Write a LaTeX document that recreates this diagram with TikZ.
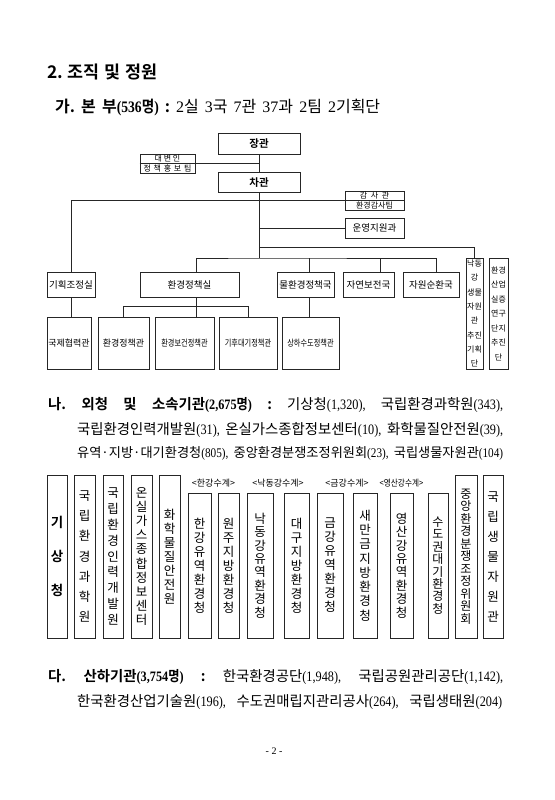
\documentclass[tikz,border=0pt]{standalone}
\usepackage{fontspec}
\setmainfont{Noto Sans CJK KR}[BoldFont={Noto Sans CJK KR Bold}]
\newfontfamily\latinfont{Liberation Serif}
\usepackage{tikz}
\usetikzlibrary{positioning}
\frenchspacing
\newcommand{\pn}[1]{\scalebox{0.85}[1]{\latinfont #1}}
\newcommand{\headcount}[1]{\scalebox{0.85}[1]{\bfseries{\latinfont(#1}명{\latinfont)}}}
\tikzset{
  org/.style={draw=black!85, line width=0.6pt, inner sep=0pt, minimum height=25pt, font=\fontsize{9.5}{10}\selectfont},
  subbox/.style={org, minimum height=52pt, font=\fontsize{9}{10}\selectfont},
  twobox/.style={org, minimum width=59pt, minimum height=19pt, align=center, font=\fontsize{8}{9.5}\selectfont},
  colbox/.style={draw=black!85, line width=0.6pt, inner sep=0pt, align=center, font=\fontsize{12.5}{14}\selectfont},
  tall/.style={minimum height=163pt},
  short/.style={minimum height=145pt},
  grp/.style={inner sep=0pt, font=\fontsize{9}{10}\selectfont},
  link/.style={draw=black!85, line width=0.6pt},
  textline/.style={anchor=west, inner sep=0pt, font=\fontsize{14.4}{16}\selectfont}
}
\begin{document}
\begin{tikzpicture}[x=1pt, y=-1pt]
\useasboundingbox (0,0) rectangle (554,800);
% headings
\node[anchor=west, inner sep=0pt, font=\bfseries\fontsize{17.4}{18}\selectfont] (title) at (47,72) {\makebox[110pt][s]{2. 조직 및 정원}};
\node[anchor=west, inner sep=0pt, font=\fontsize{16}{18}\selectfont] (hq) at (55,107)
  {\makebox[325pt][s]{\textbf{가. 본 부}\headcount{536} \textbf{:} {\latinfont 2}실 {\latinfont 3}국 {\latinfont 7}관 {\latinfont 37}과 {\latinfont 2}팀 {\latinfont 2}기획단}};
% minister and vice minister
\node[org, minimum width=82pt, minimum height=21pt, font=\bfseries\fontsize{10.5}{12}\selectfont] (minister) at (259,144) {장관};
\node[org, minimum width=82pt, minimum height=20pt, font=\bfseries\fontsize{10.5}{12}\selectfont] (vice) at (259,182.5) {차관};
\node[twobox, minimum width=55pt] (spokes) at (167.5,163.5) {대 변 인\\\makebox[48pt][s]{정 책 홍 보 팀}};
\draw[link] (spokes.west) -- (spokes.east);
\node[twobox] (audit) at (374.5,200.5) {감 \ 사 \ 관\\환경감사팀};
\draw[link] (audit.west) -- (audit.east);
\node[org, minimum width=59pt, minimum height=20pt] (ops) at (374.5,228) {운영지원과};
\coordinate (bus) at (259,258);
\coordinate (nbranch) at (259,247);
\draw[link] (minister) -- (vice);
\draw[link] (spokes.east) -- (spokes.east -| minister.south);
\draw[link] (vice) -- (bus);
\draw[link] (ops.west) -- (ops.west -| vice.south);
% offices and bureaus
\node[org, minimum width=48pt] (plan) at (71,284.5) {기획조정실};
\node[org, minimum width=99pt] (envpol) at (189.5,284.5) {환경정책실};
\node[org, minimum width=57pt] (water) at (305.5,284.5) {물환경정책국};
\node[org, minimum width=51pt] (nature) at (368.5,284.5) {자연보전국};
\node[org, minimum width=56pt] (recycle) at (431,284.5) {자원순환국};
\node[colbox, minimum width=17pt, minimum height=111pt, font=\fontsize{8}{14.3}\selectfont] (nakdong) at (474.5,313.5) {낙동\\강\\생물\\자원\\관\\추진\\기획\\단};
\node[colbox, minimum width=19pt, minimum height=111pt, font=\fontsize{8}{14.5}\selectfont] (complex) at (498.5,313.5) {환경\\산업\\실증\\연구\\단지\\추진\\단};
\draw[link] (plan.north) |- (audit.west);
\draw[link] ([xshift=6.5pt]envpol.north) |- (bus) -| ([xshift=5pt]recycle.north);
\draw[link] ([xshift=3.5pt]water.north) -- ([xshift=3.5pt]water.north |- bus);
\draw[link] ([xshift=11.5pt]nature.north) -- ([xshift=11.5pt]nature.north |- bus);
\draw[link] (nbranch) -| (nakdong.north);
% policy officers
\node[subbox, minimum width=44pt] (coop) at (69,343) {국제협력관};
\node[subbox, minimum width=51pt] (envoff) at (123.5,343) {환경정책관};
\node[subbox, minimum width=59pt] (health) at (184.5,343) {\scalebox{0.8}[1]{환경보건정책관}};
\node[subbox, minimum width=58pt] (climate) at (248,343) {\scalebox{0.8}[1]{기후대기정책관}};
\node[subbox, minimum width=57pt] (sewer) at (310.5,343) {\scalebox{0.8}[1]{상하수도정책관}};
\draw[link] (plan.south) -- (plan.south |- coop.north);
\draw[link] (envoff.north) -- ++(0,-10) -| (climate.north);
\draw[link] ([xshift=6.5pt]envpol.south) -- ([xshift=6.5pt]envpol.south |- health.north);
\draw[link] ([xshift=3.5pt]water.south) -- ([xshift=3.5pt]water.south |- sewer.north);
% affiliated agencies
\node[textline] (agencies1) at (48,405) {\makebox[455pt][s]{\textbf{나. 외청 및 소속기관}\headcount{2,675} \textbf{:} 기상청\pn{(1,320),} 국립환경과학원\pn{(343),}}};
\node[textline] (agencies2) at (77,430) {\makebox[426pt][s]{국립환경인력개발원\pn{(31),} 온실가스종합정보센터\pn{(10),} 화학물질안전원\pn{(39),}}};
\node[textline, font=\fontsize{13.2}{16}\selectfont] (agencies3) at (77,453) {\makebox[426pt][s]{유역·지방·대기환경청\pn{(805),} 중앙환경분쟁조정위원회\pn{(23),} 국립생물자원관\pn{(104)}}};
\node[grp] (hangang) at (213.5,483) {<한강수계>};
\node[grp] (nakgang) at (278,483) {<낙동강수계>};
\node[grp] (geumgang) at (347,483) {<금강수계>};
\node[grp] (yeonggang) at (401.5,483) {\scalebox{0.85}[1]{<영산강수계>}};
\node[colbox, tall, minimum width=20pt, font=\bfseries\fontsize{13.5}{34}\selectfont] (kma) at (57,556.5) {기\\상\\청};
\node[colbox, tall, minimum width=21pt, font=\fontsize{12.5}{20.3}\selectfont] (nier) at (84.5,556.5) {국\\립\\환\\경\\과\\학\\원};
\node[colbox, tall, minimum width=20pt, font=\fontsize{12.5}{15.9}\selectfont] (nhrd) at (113,556.5) {국\\립\\환\\경\\인\\력\\개\\발\\원};
\node[colbox, tall, minimum width=21pt, font=\fontsize{12.5}{14.1}\selectfont] (gir) at (141.5,556.5) {온\\실\\가\\스\\종\\합\\정\\보\\센\\터};
\node[colbox, tall, minimum width=21pt] (nics) at (169.5,556.5) {화\\학\\물\\질\\안\\전\\원};
\node[colbox, short, minimum width=23pt] (hanriver) at (199.5,565.5) {한\\강\\유\\역\\환\\경\\청};
\node[colbox, short, minimum width=21pt] (wonju) at (228.5,565.5) {원\\주\\지\\방\\환\\경\\청};
\node[colbox, short, minimum width=26pt, font=\fontsize{12.5}{13.4}\selectfont] (nakriver) at (260,565.5) {낙\\동\\강\\유\\역\\환\\경\\청};
\node[colbox, short, minimum width=25pt] (daegu) at (296.5,565.5) {대\\구\\지\\방\\환\\경\\청};
\node[colbox, short, minimum width=26pt] (geum) at (330,565.5) {금\\강\\유\\역\\환\\경\\청};
\node[colbox, short, minimum width=24pt, font=\fontsize{12.5}{14.3}\selectfont] (saemangeum) at (365,565.5) {새\\만\\금\\지\\방\\환\\경\\청};
\node[colbox, short, minimum width=23pt, font=\fontsize{12.5}{13.4}\selectfont] (yeongsan) at (401.5,565.5) {영\\산\\강\\유\\역\\환\\경\\청};
\node[colbox, short, minimum width=20pt, font=\fontsize{12}{12.4}\selectfont] (metro) at (438,565.5) {수\\도\\권\\대\\기\\환\\경\\청};
\node[colbox, tall, minimum width=22pt, font=\fontsize{12}{12.5}\selectfont] (mediation) at (466,556.5) {중\\앙\\환\\경\\분\\쟁\\조\\정\\위\\원\\회};
\node[colbox, tall, minimum width=20pt, font=\fontsize{12.5}{20}\selectfont] (nibr) at (493,556.5) {국\\립\\생\\물\\자\\원\\관};
% public institutions
\node[textline] (public1) at (48,677) {\makebox[455pt][s]{\textbf{다. 산하기관}\headcount{3,754} \textbf{:} 한국환경공단\pn{(1,948),} 국립공원관리공단\pn{(1,142),}}};
\node[textline] (public2) at (77,702) {\makebox[425pt][s]{한국환경산업기술원\pn{(196),} 수도권매립지관리공사\pn{(264),} 국립생태원\pn{(204)}}};
\node[font=\latinfont\fontsize{10}{12}\selectfont] (page) at (274,751) {- 2 -};
\end{tikzpicture}
\end{document}
